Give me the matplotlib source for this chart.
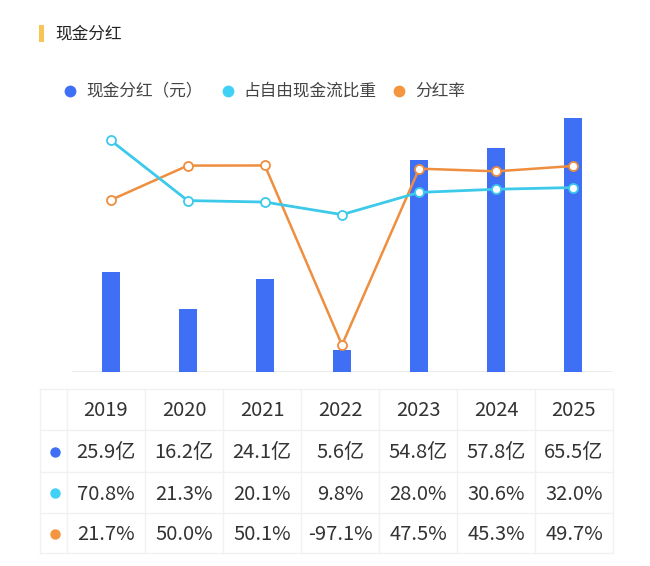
import numpy as np
import matplotlib.pyplot as plt

plt.rcParams['font.family'] = ['Noto Sans CJK SC', 'DejaVu Sans']

# data
years = ['2019', '2020', '2021', '2022', '2023', '2024', '2025']
dividend = [25.9, 16.2, 24.1, 5.6, 54.8, 57.8, 65.5]          # 亿元
fcf_share = [70.8, 21.3, 20.1, 9.8, 28.0, 30.6, 32.0]          # %
payout = [21.7, 50.0, 50.1, -97.1, 47.5, 45.3, 49.7]           # %
series_names = ['现金分红（元）', '占自由现金流比重', '分红率']

BLUE = '#3F6FF5'
CYAN = '#3CC9EA'
CYAN_DOT = '#41D0F6'
ORANGE = '#EE8E3E'
ORANGE_DOT = '#F4953F'
TEXT = '#333333'
GRID = '#F1F1F1'

W, H = 650, 566
fig = plt.figure(figsize=(W / 100, H / 100), dpi=100)


def px_rect(x0, y0, x1, y1):
    # pixel box (top-left origin) -> figure fraction
    return [x0 / W, 1 - y1 / H, (x1 - x0) / W, (y1 - y0) / H]


# chart area
ax = fig.add_axes(px_rect(72, 110, 612, 372))
x = np.arange(len(years))
ax.bar(x, dividend, width=0.235, color=BLUE, zorder=2)
ax.axhline(0, color='#E6E6E6', lw=1.2, zorder=1)
ax.set_xlim(-0.5, len(years) - 0.5)
ax.set_ylim(0, 67.6)
ax.axis('off')

ax2 = ax.twinx()
ax2.set_ylim(-119.3, 95.6)
ax2.plot(x, payout, color=ORANGE, lw=1.8, marker='o', ms=6.5,
         mfc='white', mec=ORANGE, mew=1.3, zorder=3)
ax2.plot(x, fcf_share, color=CYAN, lw=2.0, marker='o', ms=6.5,
         mfc='white', mec=CYAN, mew=1.3, zorder=4)
ax2.axis('off')

# overlay in pixel coordinates for title, legend and table
ov = fig.add_axes([0, 0, 1, 1], zorder=-1)
ov.set_xlim(0, W)
ov.set_ylim(H, 0)
ov.axis('off')

# title
ov.add_patch(plt.Rectangle((39, 25), 4.5, 17, color='#F6C556', lw=0))
ov.text(55, 34, '现金分红', fontsize=12, color='#222222', va='center',
        ha='left', fontweight='medium')

# legend
dot_colors = [BLUE, CYAN_DOT, ORANGE_DOT]
leg_x = [70, 227.5, 399]
for lx, c, name in zip(leg_x, dot_colors, series_names):
    ov.plot(lx, 91, 'o', ms=8.5, color=c, mec='none')
    ov.text(lx + 16, 91, name, fontsize=12, color='#444444',
            va='center', ha='left')

# table
col_edges = [40, 67] + [67 + 78 * (i + 1) for i in range(len(years))]
row_edges = [389, 430, 472, 513, 553]
for xe in col_edges:
    ov.plot([xe, xe], [row_edges[0], row_edges[-1]], color=GRID, lw=1)
for ye in row_edges:
    ov.plot([col_edges[0], col_edges[-1]], [ye, ye], color=GRID, lw=1)

row_mid = [(row_edges[i] + row_edges[i + 1]) / 2 + 1.5 for i in range(4)]
col_mid = [(col_edges[i + 1] + col_edges[i + 2]) / 2 for i in range(len(years))]

for cx, yr in zip(col_mid, years):
    ov.text(cx, row_mid[0], yr, fontsize=14.5, color=TEXT, ha='center', va='center')

rows = [
    [f'{v:.1f}亿' for v in dividend],
    [f'{v:.1f}%' for v in fcf_share],
    [f'{v:.1f}%' for v in payout],
]
for r, (cells, c) in enumerate(zip(rows, dot_colors)):
    y = row_mid[r + 1]
    ov.plot(55, y - 1, 'o', ms=7.5, color=c, mec='none')
    for cx, s in zip(col_mid, cells):
        ov.text(cx, y, s, fontsize=14.5, color=TEXT, ha='center', va='center')

fig.savefig('out.png', dpi=100)
